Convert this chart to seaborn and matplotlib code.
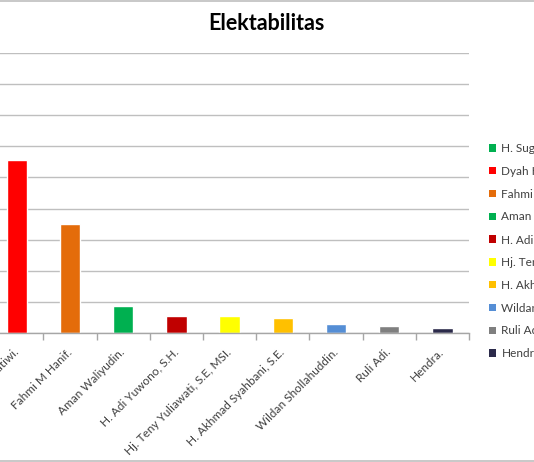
import matplotlib
matplotlib.use("Agg")
import matplotlib.pyplot as plt
import seaborn as sns
import pandas as pd
from matplotlib.patches import Patch

candidates = [
    "H. Sugeng Riyadi.",
    "Dyah Hayuning Pratiwi.",
    "Fahmi M Hanif.",
    "Aman Waliyudin.",
    "H. Adi Yuwono, S.H.",
    "Hj. Teny Yuliawati, S.E, MSI.",
    "H. Akhmad Syahbani, S.E.",
    "Wildan Shollahuddin.",
    "Ruli Adi.",
    "Hendra.",
]
values = [39.1, 27.8, 17.5, 4.4, 2.8, 2.7, 2.4, 1.5, 1.1, 0.8]
colors = ["#00B050", "#FF0000", "#E46C0A", "#00B050", "#C00000",
          "#FFFF00", "#FFC000", "#558ED5", "#7F7F7F", "#2B2A4A"]

df = pd.DataFrame({"Kandidat": candidates, "Elektabilitas": values})

sns.set_style("white")
plt.rcParams["font.family"] = ["Lato", "DejaVu Sans"]

W, H = 534, 462
fig = plt.figure(figsize=(W / 100, H / 100), dpi=100)

left_px, right_px, top_px, bot_px = -63, 469, 53, 333
ax = fig.add_axes([left_px / W, (H - bot_px) / H,
                   (right_px - left_px) / W, (bot_px - top_px) / H])

sns.barplot(data=df, x="Kandidat", y="Elektabilitas", hue="Kandidat",
            palette=colors, dodge=False, legend=False, width=0.38,
            saturation=1, ax=ax)

ax.set_ylim(0, 45)
ax.set_yticks(range(0, 46, 5))
ax.set_xlim(-0.5, len(candidates) - 0.5)
ax.yaxis.grid(True, color="#BFBFBF", linewidth=1)
ax.set_axisbelow(True)
for s in ["top", "right", "left"]:
    ax.spines[s].set_visible(False)
ax.spines["bottom"].set_color("#A6A6A6")
ax.spines["bottom"].set_linewidth(1)
ax.set_xlabel("")
ax.set_ylabel("")
ax.tick_params(axis="y", left=False, labelleft=False)

ax.set_xticks([i + 0.5 for i in range(-1, len(candidates))], minor=True)
ax.tick_params(axis="x", which="minor", bottom=True, length=5,
               color="#A6A6A6", width=1)
ax.tick_params(axis="x", which="major", bottom=False, pad=9)
ax.set_xticks(range(len(candidates)))
ax.set_xticklabels(candidates, rotation=45, ha="right", va="center",
                   rotation_mode="anchor", fontsize=8.5, color="#404040")

fig.text(266 / W, 1 - 24 / H, "Elektabilitas", ha="center", va="center",
         fontsize=15.5, fontweight="bold", color="black")

handles = [Patch(facecolor=c, edgecolor="none") for c in colors]
fig.legend(handles, candidates, loc="upper left",
           bbox_to_anchor=(489 / W, 1 - 143 / H), frameon=False,
           fontsize=8.5, handlelength=0.6, handleheight=0.6,
           handletextpad=0.45, labelspacing=1.0, borderaxespad=0,
           borderpad=0, labelcolor="#404040")

fig.add_artist(plt.Line2D([0, 1], [1 - 1 / H, 1 - 1 / H], color="#BFBFBF",
                          linewidth=1.2, transform=fig.transFigure))
fig.add_artist(plt.Line2D([0, 1], [1.5 / H, 1.5 / H], color="#BFBFBF",
                          linewidth=1.2, transform=fig.transFigure))

fig.savefig("out.png", dpi=100)
